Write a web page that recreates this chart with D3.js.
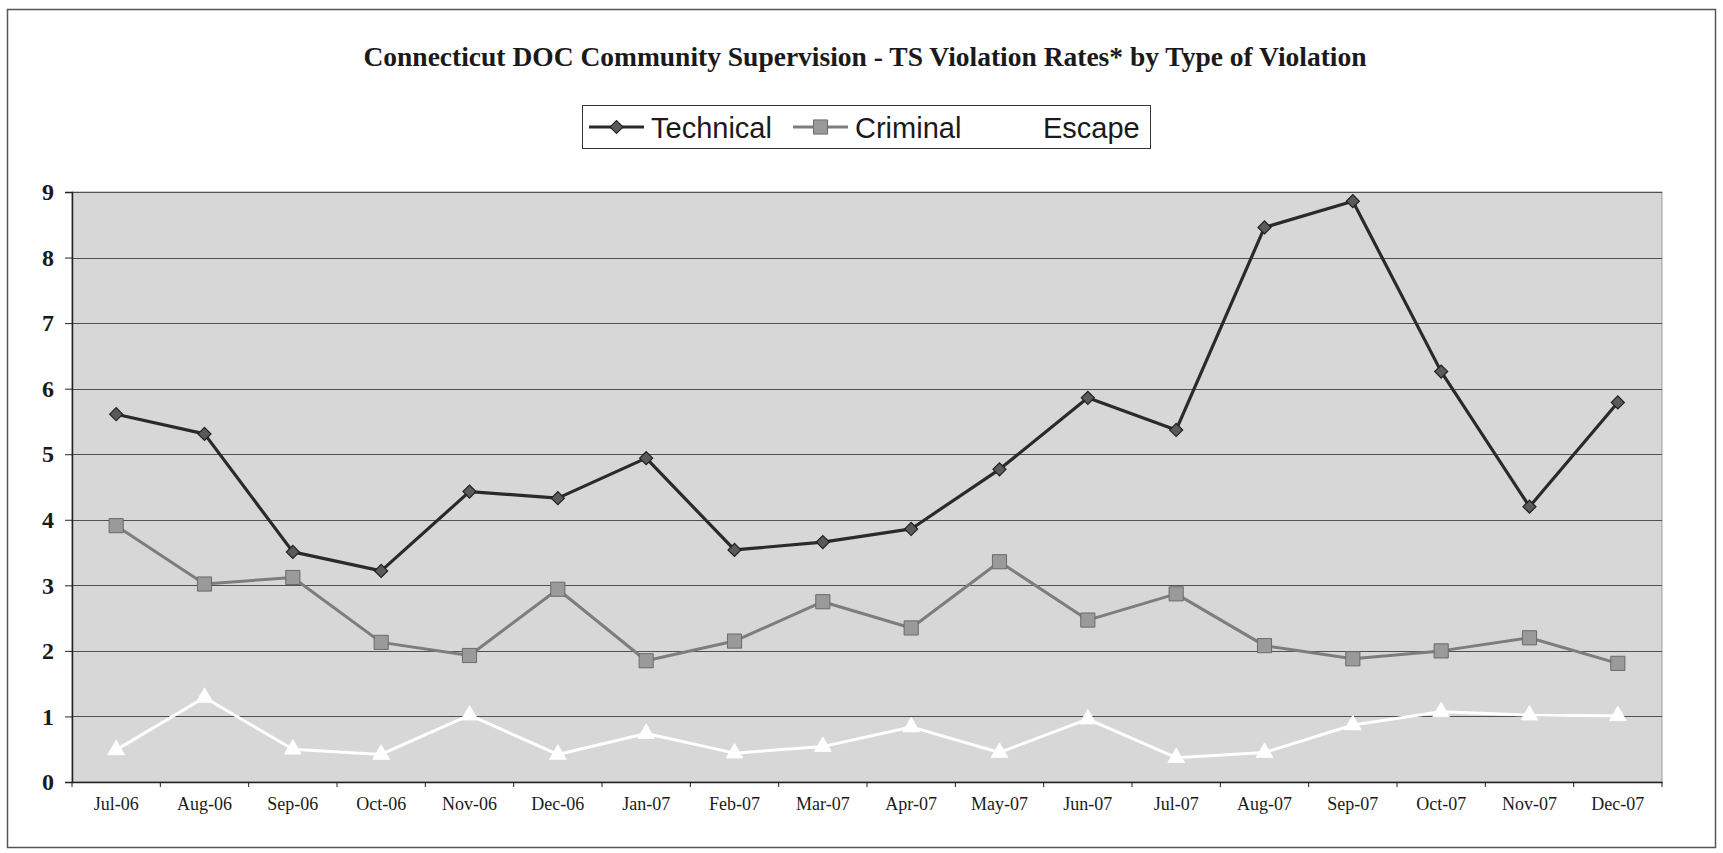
<!DOCTYPE html>
<html>
<head>
<meta charset="utf-8">
<script src="https://cdn.jsdelivr.net/npm/d3@7/dist/d3.min.js"></script>
<style>
  html, body { margin: 0; padding: 0; background: #ffffff; }
  svg { display: block; }
</style>
</head>
<body>
<svg id="chart" width="1723" height="853"></svg>
<script>
// ---- data ----
const months = ["Jul-06","Aug-06","Sep-06","Oct-06","Nov-06","Dec-06","Jan-07","Feb-07","Mar-07","Apr-07","May-07","Jun-07","Jul-07","Aug-07","Sep-07","Oct-07","Nov-07","Dec-07"];
const technical = [5.61,5.31,3.51,3.22,4.43,4.33,4.94,3.54,3.66,3.86,4.77,5.86,5.37,8.46,8.86,6.26,4.20,5.79];
const criminal  = [3.91,3.02,3.12,2.13,1.93,2.94,1.85,2.15,2.75,2.35,3.36,2.47,2.87,2.08,1.88,2.00,2.20,1.81];
const escape    = [0.49,1.29,0.50,0.42,1.02,0.42,0.74,0.44,0.54,0.84,0.45,0.96,0.37,0.45,0.87,1.07,1.02,1.01];
const yTicks = [0,1,2,3,4,5,6,7,8,9];
const seriesNames = ["Technical","Criminal","Escape"];
const titleText = "Connecticut DOC Community Supervision - TS Violation Rates* by Type of Violation";

// ---- layout ----
const svg = d3.select("#chart");
const plot = { left: 72, right: 1662, top: 192, bottom: 782 };

const x = d3.scaleBand().domain(months).range([plot.left, plot.right]).padding(0);
const y = d3.scaleLinear().domain([0, 9]).range([plot.bottom, plot.top]);
const cx = d => x(d) + x.bandwidth() / 2;

// outer frame
svg.append("rect")
  .attr("x", 7.5).attr("y", 9.5).attr("width", 1708).attr("height", 838)
  .attr("fill", "#ffffff").attr("stroke", "#555").attr("stroke-width", 1.5);

// title
svg.append("text")
  .attr("x", 865).attr("y", 66)
  .attr("text-anchor", "middle")
  .attr("font-family", "'Liberation Serif', 'Times New Roman', serif")
  .attr("font-weight", "bold")
  .attr("font-size", 27.5)
  .attr("fill", "#1a1a1a")
  .text(titleText);

// plot background
svg.append("rect")
  .attr("x", plot.left).attr("y", plot.top)
  .attr("width", plot.right - plot.left).attr("height", plot.bottom - plot.top)
  .attr("fill", "#d7d7d7").attr("stroke", "#9a9a9a").attr("stroke-width", 1);

// gridlines
svg.append("g").selectAll("line")
  .data(yTicks.filter(t => t > 0))
  .join("line")
  .attr("x1", plot.left).attr("x2", plot.right)
  .attr("y1", d => Math.round(y(d)) + 0.5).attr("y2", d => Math.round(y(d)) + 0.5)
  .attr("stroke", "#505050").attr("stroke-width", 1);

// y axis
const yAxis = svg.append("g")
  .attr("transform", `translate(${plot.left},0)`)
  .call(d3.axisLeft(y).tickValues(yTicks).tickSize(7).tickPadding(11).tickFormat(d3.format("d")));
yAxis.select(".domain").attr("stroke", "#222").attr("stroke-width", 1.5);
yAxis.selectAll(".tick line").attr("stroke", "#222");
yAxis.selectAll("text")
  .attr("font-family", "'Liberation Serif', 'Times New Roman', serif")
  .attr("font-weight", "bold").attr("font-size", 24).attr("fill", "#1a1a1a");

// x axis (labels at band centers)
const xAxis = svg.append("g")
  .attr("transform", `translate(0,${plot.bottom})`)
  .call(d3.axisBottom(x).tickSize(0).tickPadding(15));
xAxis.select(".domain").attr("stroke", "#222").attr("stroke-width", 1.5);
xAxis.selectAll("text")
  .attr("font-family", "'Liberation Serif', 'Times New Roman', serif")
  .attr("font-size", 18).attr("fill", "#1a1a1a");

// x tick marks at category boundaries
const boundaries = months.map(m => x(m)).concat([x.range()[1]]);
svg.append("g").selectAll("line")
  .data(boundaries)
  .join("line")
  .attr("x1", d => d).attr("x2", d => d)
  .attr("y1", plot.bottom).attr("y2", plot.bottom + 5)
  .attr("stroke", "#222").attr("stroke-width", 1);

// series lines
const line = d3.line().x((d, i) => cx(months[i])).y(d => y(d));

function drawSeries(values, color, width) {
  svg.append("path")
    .datum(values)
    .attr("fill", "none")
    .attr("stroke", color)
    .attr("stroke-width", width)
    .attr("stroke-linejoin", "round")
    .attr("d", line);
}
drawSeries(escape, "#ffffff", 3);
drawSeries(criminal, "#7d7d7d", 3);
drawSeries(technical, "#2a2a2a", 3.2);

// markers
const square = d3.symbol().type(d3.symbolSquare).size(200);
const triangle = d3.symbol().type(d3.symbolTriangle).size(120);
const diamondSym = d3.symbol().type(d3.symbolSquare).size(85);

svg.append("g").selectAll("path")
  .data(escape)
  .join("path")
  .attr("transform", (d, i) => `translate(${cx(months[i])},${y(d)})`)
  .attr("d", triangle)
  .attr("fill", "#ffffff").attr("stroke", "#ffffff").attr("stroke-width", 1);

svg.append("g").selectAll("path")
  .data(criminal)
  .join("path")
  .attr("transform", (d, i) => `translate(${cx(months[i])},${y(d)})`)
  .attr("d", square)
  .attr("fill", "#9a9a9a").attr("stroke", "#6a6a6a").attr("stroke-width", 1);

svg.append("g").selectAll("path")
  .data(technical)
  .join("path")
  .attr("transform", (d, i) => `translate(${cx(months[i])},${y(d)}) rotate(45)`)
  .attr("d", diamondSym)
  .attr("fill", "#5a5a5a").attr("stroke", "#222").attr("stroke-width", 1.2);

// legend
const legend = svg.append("g");
legend.append("rect")
  .attr("x", 582.5).attr("y", 105.5).attr("width", 568).attr("height", 43)
  .attr("fill", "#ffffff").attr("stroke", "#333").attr("stroke-width", 1);

const legendItems = [
  { name: seriesNames[0], lx: 589, tx: 651, color: "#2a2a2a", marker: "diamond" },
  { name: seriesNames[1], lx: 793, tx: 855, color: "#7d7d7d", marker: "square" },
  { name: seriesNames[2], lx: 975, tx: 1043, color: "#ffffff", marker: "triangle" }
];
const ly = 127;
legendItems.forEach(it => {
  legend.append("line")
    .attr("x1", it.lx).attr("x2", it.lx + 55)
    .attr("y1", ly).attr("y2", ly)
    .attr("stroke", it.color).attr("stroke-width", 3);
  const mx = it.lx + 27.5;
  if (it.marker === "diamond") {
    legend.append("path")
      .attr("transform", `translate(${mx},${ly}) rotate(45)`)
      .attr("d", diamondSym)
      .attr("fill", "#5a5a5a").attr("stroke", "#222").attr("stroke-width", 1.2);
  } else if (it.marker === "square") {
    legend.append("path")
      .attr("transform", `translate(${mx},${ly})`)
      .attr("d", square)
      .attr("fill", "#9a9a9a").attr("stroke", "#6a6a6a").attr("stroke-width", 1);
  } else {
    legend.append("path")
      .attr("transform", `translate(${mx},${ly})`)
      .attr("d", triangle)
      .attr("fill", "#ffffff");
  }
  legend.append("text")
    .attr("x", it.tx).attr("y", ly + 10.5)
    .attr("font-family", "'Liberation Sans', Arial, sans-serif")
    .attr("font-size", 29)
    .attr("fill", "#1a1a1a")
    .text(it.name);
});
</script>
</body>
</html>
